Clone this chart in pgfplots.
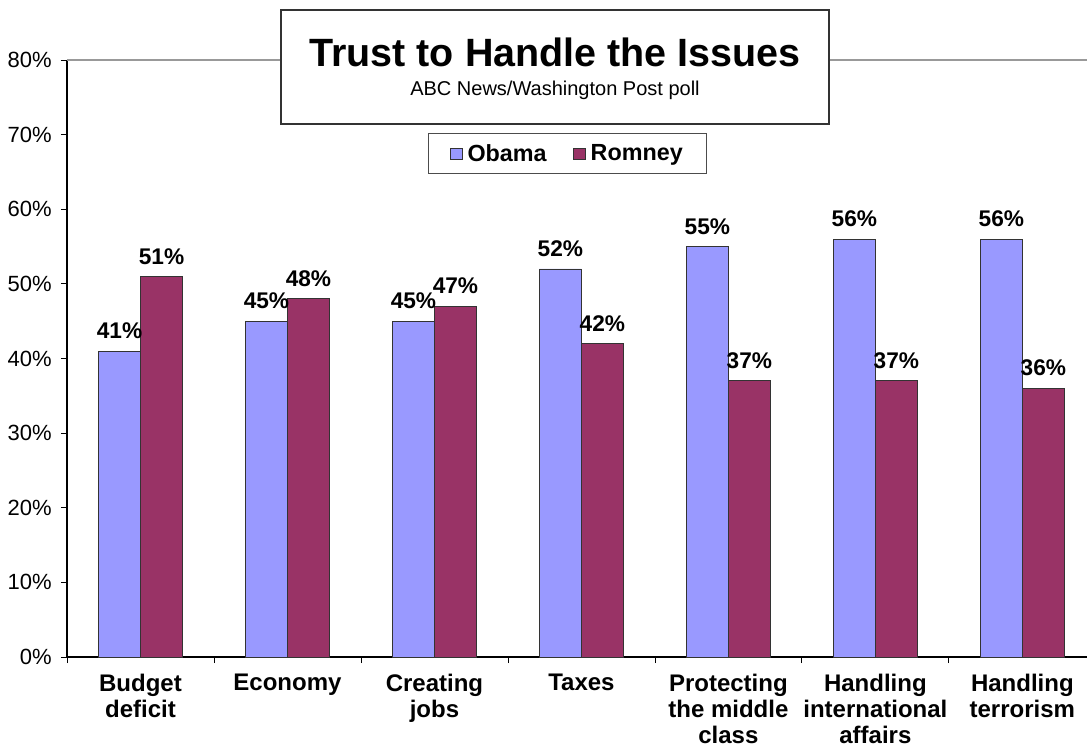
\documentclass[border=0pt]{standalone}
\usepackage{pgfplots}
\pgfplotsset{compat=1.18}
\usepackage{fontspec}
\setmainfont{Liberation Sans}
\definecolor{obama}{HTML}{9999FF}
\definecolor{romney}{HTML}{993366}
\begin{document}
\begin{tikzpicture}
\useasboundingbox (0,0) rectangle (815.25pt,559.5pt);
\fill[white] (0,0) rectangle (815.25pt,559.5pt);
\begin{axis}[
  at={(50.25pt,66.75pt)}, anchor=south west,
  scale only axis, width=765pt, height=447.75pt,
  ybar=0pt, bar width=31.5pt,
  xmin=-0.5, xmax=6.44, ymin=0, ymax=80,
  axis lines*=left,
  axis line style={black, line width=0.8pt},
  xtick={0,...,6},
  xticklabels={Budget\\deficit, Economy, Creating\\jobs, Taxes, Protecting\\the middle\\class, Handling\\international\\affairs, Handling\\terrorism},
  minor xtick={-0.5,0.5,...,5.5},
  major x tick style={draw=none},
  minor x tick style={black, line width=0.6pt},
  tick align=outside,
  major tick length=4.5pt, minor tick length=4.5pt,
  ytick={0,10,...,80},
  y tick style={black, line width=0.6pt},
  /pgf/number format/assume math mode=true,
  yticklabel={\pgfmathprintnumber{\tick}\%},
  yticklabel style={font=\fontsize{16.5}{19}\selectfont, xshift=-3.5pt},
  xticklabel style={font=\fontsize{18}{19.5}\selectfont\bfseries, align=center, yshift=-4.5pt},
  extra y ticks={80}, extra y tick labels={},
  extra y tick style={grid=major, major grid style={gray!80, line width=0.8pt}},
  nodes near coords={\pgfmathprintnumber{\pgfplotspointmeta}\%},
  nodes near coords style={font=\fontsize{17}{20}\selectfont\bfseries, black, yshift=5.5pt},
  legend style={at={(0.491,0.843)}, anchor=center, draw=black!70, line width=0.8pt,
    legend columns=2, font=\fontsize{17.5}{20}\selectfont\bfseries,
    inner xsep=16pt, inner ysep=6pt,
    /tikz/every odd column/.append style={column sep=2pt},
    /tikz/every even column/.append style={column sep=18pt}},
  legend image code/.code={\draw[#1, line width=0.5pt] (0pt,-4.2pt) rectangle (8.5pt,4.2pt);},
]
\addplot[draw=black!80, line width=0.6pt, fill=obama] coordinates {(0,41) (1,45) (2,45) (3,52) (4,55) (5,56) (6,56)};
\addplot[draw=black!80, line width=0.6pt, fill=romney] coordinates {(0,51) (1,48) (2,47) (3,42) (4,37) (5,37) (6,36)};
\legend{Obama, Romney}
\end{axis}
\draw[black!80, line width=0.8pt, fill=white] (210.75pt,552pt) rectangle (621.75pt,466.5pt);
\node[font=\fontsize{29.6}{32}\selectfont\bfseries] at (416.25pt,520pt) {Trust to Handle the Issues};
\node[font=\fontsize{15}{17}\selectfont] at (416.25pt,492pt) {ABC News/Washington Post poll};
\end{tikzpicture}
\end{document}
